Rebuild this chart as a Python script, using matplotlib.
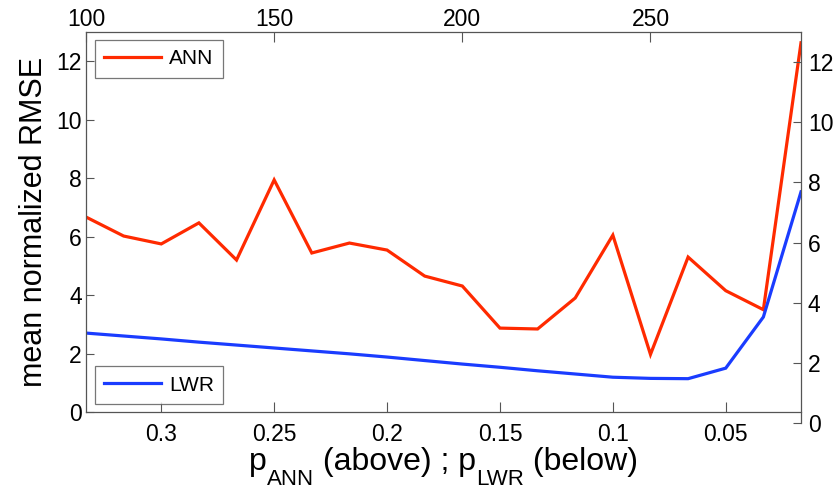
import matplotlib
matplotlib.use("Agg")
import matplotlib.pyplot as plt
from matplotlib.lines import Line2D

plt.rcParams['font.family'] = ['Liberation Sans', 'DejaVu Sans']

# p runs from 20/60 down to 1/60; number of samples 100..290
p_vals = [k / 60 for k in range(20, 0, -1)]
n_vals = list(range(100, 300, 10))

ann_rmse = [6.67, 6.02, 5.75, 6.47, 5.20, 7.94, 5.44, 5.78, 5.54, 4.65,
            4.31, 2.87, 2.84, 3.90, 6.05, 1.97, 5.30, 4.15, 3.50, 12.63]
lwr_rmse = [2.70, 2.60, 2.50, 2.39, 2.29, 2.19, 2.09, 1.99, 1.88, 1.76,
            1.64, 1.53, 1.41, 1.30, 1.19, 1.15, 1.14, 1.50, 3.25, 7.53]

p_ticks = [0.3, 0.25, 0.2, 0.15, 0.1, 0.05]
p_labels = ['0.3', '0.25', '0.2', '0.15', '0.1', '0.05']
n_ticks = [100, 150, 200, 250]
y_ticks = [0, 2, 4, 6, 8, 10, 12]

red = '#ff2a00'
blue = '#1a3cff'
edge = '#555555'
tsize = 16.5

W, H = 837, 493
fig = plt.figure(figsize=(W / 100, H / 100), dpi=100)

x0, x1 = 86, 801
ytop, ybot = 32, 412
ax = fig.add_axes([x0 / W, (H - ybot) / H, (x1 - x0) / W, (ybot - ytop) / H])

ax.plot(p_vals, ann_rmse, color=red, lw=2.3, solid_joinstyle='miter')
ax.plot(p_vals, lwr_rmse, color=blue, lw=2.3, solid_joinstyle='miter')
ax.set_xlim(1 / 3, 1 / 60)
ax.set_ylim(0, 13)
ax.set_xticks(p_ticks)
ax.set_xticklabels(p_labels)
ax.set_yticks(y_ticks)
ax.tick_params(axis='x', direction='in', length=7, width=0.8, color=edge,
               labelsize=tsize, pad=8, top=False)
ax.tick_params(axis='y', direction='in', length=6, width=0.8, color=edge,
               labelsize=tsize, pad=3, right=False)
for s in ax.spines.values():
    s.set_color(edge)
    s.set_linewidth(0.9)
ax.spines['right'].set_visible(False)

ax.set_ylabel('mean normalized RMSE', fontsize=22, labelpad=5)

# top axis: sample count
top = ax.twiny()
top.set_xlim(100, 290)
top.set_xticks(n_ticks)
top.tick_params(axis='x', direction='in', length=7, width=0.8, color=edge,
                labelsize=tsize, pad=1)
for s in top.spines.values():
    s.set_visible(False)

# right axis sits a little lower than the main box
rb = 423
rax = fig.add_axes([x0 / W, (H - rb) / H, (x1 - x0) / W, (rb - ytop) / H])
rax.patch.set_visible(False)
rax.set_ylim(0, 13)
rax.set_xlim(0, 1)
rax.set_yticks(y_ticks)
rax.set_xticks([])
rax.yaxis.tick_right()
rax.tick_params(axis='y', direction='in', length=6, width=0.8, color=edge,
                labelsize=tsize, pad=5)
for name, s in rax.spines.items():
    s.set_visible(name == 'right')
rax.spines['right'].set_color(edge)
rax.spines['right'].set_linewidth(0.9)

leg_kw = dict(fontsize=15, frameon=True, fancybox=False, borderaxespad=0,
              handlelength=2.7, handletextpad=0.4, borderpad=0.45)
h_ann = Line2D([], [], color=red, lw=2.3)
h_lwr = Line2D([], [], color=blue, lw=2.3)
lg1 = ax.legend([h_ann], ['ANN'], loc='upper left',
                bbox_to_anchor=(9 / 715, (ybot - 40) / 380), **leg_kw)
lg1.get_frame().set_edgecolor(edge)
lg1.get_frame().set_linewidth(0.9)
ax.add_artist(lg1)
lg2 = ax.legend([h_lwr], ['LWR'], loc='lower left',
                bbox_to_anchor=(9 / 715, (ybot - 404) / 380), **leg_kw)
lg2.get_frame().set_edgecolor(edge)
lg2.get_frame().set_linewidth(0.9)

# x label built piece by piece so the subscripts sit low like the original
pieces = [('p', 23, 0), ('ANN', 16, 15), (' (above) ; p', 23, 0),
          ('LWR', 16, 15), (' (below)', 23, 0)]
fig.canvas.draw()
rend = fig.canvas.get_renderer()
texts = []
total = 0
for s, size, drop in pieces:
    t = fig.text(0, 0, s, fontsize=size, va='baseline', ha='left')
    w = t.get_window_extent(rend).width
    texts.append((t, w, drop))
    total += w
x = (x0 + x1) / 2 - total / 2
base = 470
for t, w, drop in texts:
    t.set_position((x / W, (H - base - drop) / H))
    x += w

fig.savefig('out.png', dpi=100)
